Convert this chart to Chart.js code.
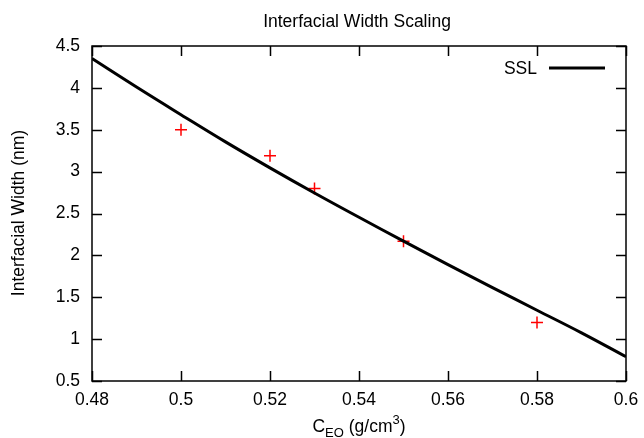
<!DOCTYPE html>
<html>
<head>
<meta charset="utf-8">
<script src="https://cdn.jsdelivr.net/npm/chart.js@4.4.0/dist/chart.umd.min.js"></script>
<style>
html,body{margin:0;padding:0;background:#fff;}
#wrap{width:644px;height:438px;}
</style>
</head>
<body>
<div id="wrap"><canvas id="c" width="644" height="438"></canvas></div>
<script>
// Data
const pointX = [0.50, 0.52, 0.53, 0.55, 0.58];
const pointY = [3.50, 3.19, 2.80, 2.17, 1.20];
const sslX = [0.48, 0.49, 0.50, 0.51, 0.52, 0.53, 0.54, 0.55, 0.56, 0.57, 0.58, 0.59, 0.60];
const sslY = [4.35, 4.01, 3.68, 3.355, 3.045, 2.745, 2.455, 2.17, 1.89, 1.615, 1.345, 1.075, 0.79];
const xTicks = [0.48, 0.50, 0.52, 0.54, 0.56, 0.58, 0.60];
const yTicks = [0.5, 1, 1.5, 2, 2.5, 3, 3.5, 4, 4.5];
const titleText = 'Interfacial Width Scaling';
const yTitle = 'Interfacial Width (nm)';
const legendLabel = 'SSL';

const FONT = 'Liberation Sans, Arial, Helvetica, sans-serif';
const FS = 17.5;

const fmtX = v => String(Math.round(v * 100) / 100);

const framePlugin = {
  id: 'frame',
  afterDatasetsDraw(chart) {
    const {ctx, chartArea: a, scales: {x, y}} = chart;
    ctx.save();
    ctx.strokeStyle = '#000';
    ctx.lineWidth = 1.5;
    ctx.strokeRect(a.left, a.top, a.right - a.left, a.bottom - a.top);
    const tl = 10;
    ctx.beginPath();
    xTicks.forEach(v => {
      const px = Math.round(x.getPixelForValue(v)) + 0.5;
      ctx.moveTo(px, a.bottom); ctx.lineTo(px, a.bottom - tl);
      ctx.moveTo(px, a.top); ctx.lineTo(px, a.top + tl);
    });
    yTicks.forEach(v => {
      const py = Math.round(y.getPixelForValue(v)) + 0.5;
      ctx.moveTo(a.left, py); ctx.lineTo(a.left + tl, py);
      ctx.moveTo(a.right, py); ctx.lineTo(a.right - tl, py);
    });
    ctx.stroke();

    // legend
    ctx.fillStyle = '#000';
    ctx.font = FS + 'px ' + FONT;
    ctx.textAlign = 'right';
    ctx.textBaseline = 'alphabetic';
    ctx.fillText(legendLabel, 537, 74);
    ctx.lineWidth = 3;
    ctx.beginPath();
    ctx.moveTo(549, 68); ctx.lineTo(605, 68);
    ctx.stroke();

    // title
    ctx.font = FS + 'px ' + FONT;
    ctx.textAlign = 'center';
    ctx.fillText(titleText, 357, 27);

    // y title
    ctx.save();
    ctx.translate(24, 213);
    ctx.rotate(-Math.PI / 2);
    ctx.textAlign = 'center';
    ctx.fillText(yTitle, 0, 0);
    ctx.restore();

    // x title with sub/superscript
    const big = FS + 'px ' + FONT, small = '13px ' + FONT;
    const parts = [
      {t: 'C', f: big, dy: 0},
      {t: 'EO', f: small, dy: 5},
      {t: ' (g/cm', f: big, dy: 0},
      {t: '3', f: small, dy: -8},
      {t: ')', f: big, dy: 0}
    ];
    let total = 0;
    parts.forEach(p => { ctx.font = p.f; p.w = ctx.measureText(p.t).width; total += p.w; });
    let cx = 359 - total / 2;
    ctx.textAlign = 'left';
    const base = 432;
    parts.forEach(p => { ctx.font = p.f; ctx.fillText(p.t, cx, base + p.dy); cx += p.w; });
    ctx.restore();
  }
};

const lineData = sslX.map((v, i) => ({x: v, y: sslY[i]}));
const ptData = pointX.map((v, i) => ({x: v, y: pointY[i]}));

new Chart(document.getElementById('c'), {
  type: 'line',
  data: {
    datasets: [
      {
        label: legendLabel,
        data: lineData,
        borderColor: '#000',
        borderWidth: 3,
        pointRadius: 0,
        fill: false,
        tension: 0.4
      },
      {
        label: 'data',
        data: ptData,
        showLine: false,
        pointStyle: 'cross',
        pointRadius: 6,
        pointBorderWidth: 1.5,
        pointBorderColor: '#ff0000',
        pointBackgroundColor: '#ff0000',
        borderColor: '#ff0000'
      }
    ]
  },
  options: {
    responsive: false,
    animation: false,
    devicePixelRatio: 1,
    layout: {padding: {top: 46, right: 18, left: 0, bottom: 0}},
    plugins: {legend: {display: false}, title: {display: false}, tooltip: {enabled: false}},
    scales: {
      x: {
        type: 'linear',
        min: 0.48, max: 0.6,
        afterBuildTicks: s => { s.ticks = xTicks.map(v => ({value: v})); },
        afterFit: s => { s.height = 57; s.paddingLeft = 0; s.paddingRight = 0; },
        grid: {display: false, drawTicks: false},
        border: {display: false},
        ticks: {
          color: '#000', padding: 9,
          font: {family: FONT, size: FS},
          callback: v => fmtX(v),
          maxRotation: 0, autoSkip: false
        }
      },
      y: {
        type: 'linear',
        min: 0.5, max: 4.5,
        afterBuildTicks: s => { s.ticks = yTicks.map(v => ({value: v})); },
        afterFit: s => { s.width = 92; s.paddingTop = 0; s.paddingBottom = 0; },
        grid: {display: false, drawTicks: false},
        border: {display: false},
        ticks: {
          color: '#000', padding: 12,
          font: {family: FONT, size: FS},
          callback: v => String(v),
          autoSkip: false
        }
      }
    }
  },
  plugins: [framePlugin]
});
</script>
</body>
</html>
